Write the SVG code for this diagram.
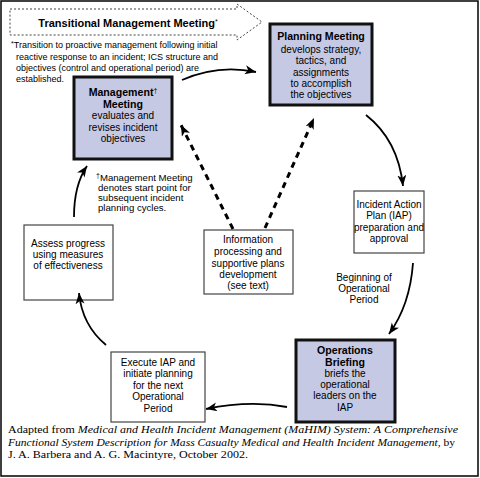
<svg xmlns="http://www.w3.org/2000/svg" width="480" height="478" viewBox="0 0 480 478">
<defs>
<marker id="ah" markerUnits="userSpaceOnUse" markerWidth="12" markerHeight="10" refX="11" refY="4.5" orient="auto">
<path d="M0,0 L11,4.5 L0,9 L3,4.5 Z" fill="#000"/>
</marker>
</defs>
<style>
.t{font-family:"Liberation Sans",Arial,sans-serif;fill:#000;text-anchor:middle;font-size:10px}
.b{font-weight:bold;font-size:10.6px}
.n{font-family:"Liberation Sans",Arial,sans-serif;fill:#000;font-size:9px}
.cap{font-family:"Liberation Serif","Times New Roman",serif;fill:#000;font-size:11.3px}
.plain{fill:#fff;stroke:#444;stroke-width:1.2}
.key{fill:#c6c9e4;stroke:#111;stroke-width:3}
.arr{fill:none;stroke:#000;stroke-width:1.8;marker-end:url(#ah)}
.dash{fill:none;stroke:#000;stroke-width:3;stroke-dasharray:6 5;marker-end:url(#ah)}
</style>
<rect x="0" y="0" width="480" height="478" fill="#fff"/>
<rect x="1" y="1" width="477" height="475" fill="none" stroke="#000" stroke-width="1.5"/>

<g id="transitional">
<path d="M10,9 H237 V4 L262,22 L237,40 V35 H10 Z" fill="none" stroke="#444" stroke-width="1" stroke-dasharray="2 2"/>
<text class="t b" x="128" y="27" style="font-size:11px">Transitional Management Meeting<tspan font-size="7" dy="-3" font-weight="normal">*</tspan></text>
</g>

<g id="note-transition">
<text class="n" x="11" y="48"><tspan font-size="7" dy="-2">*</tspan><tspan dy="2">Transition to proactive management following initial</tspan></text>
<text class="n" x="16" y="60">reactive response to an incident; ICS structure and</text>
<text class="n" x="16" y="71">objectives (control and operational period) are</text>
<text class="n" x="16" y="82">established.</text>
</g>

<g id="management">
<rect class="key" x="74" y="77" width="98" height="82"/>
<text class="t b" x="123" y="96">Management<tspan font-size="7" dy="-3" font-weight="normal">†</tspan></text>
<text class="t b" x="123" y="108">Meeting</text>
<text class="t" x="123" y="119">evaluates and</text>
<text class="t" x="123" y="131">revises incident</text>
<text class="t" x="123" y="142">objectives</text>
</g>

<g id="planning">
<rect class="key" x="270" y="24" width="102" height="81"/>
<text class="t b" x="321" y="40">Planning Meeting</text>
<text class="t" x="321" y="53">develops strategy,</text>
<text class="t" x="321" y="64">tactics, and</text>
<text class="t" x="321" y="76">assignments</text>
<text class="t" x="321" y="87">to accomplish</text>
<text class="t" x="321" y="98">the objectives</text>
</g>

<g id="iap">
<rect class="plain" x="354" y="191" width="70" height="62"/>
<text class="t" x="389" y="208">Incident Action</text>
<text class="t" x="389" y="219">Plan (IAP)</text>
<text class="t" x="389" y="231">preparation and</text>
<text class="t" x="389" y="242">approval</text>
</g>

<g id="briefing">
<rect class="key" x="296" y="340" width="99" height="82"/>
<text class="t b" x="345" y="354">Operations</text>
<text class="t b" x="345" y="365.5">Briefing</text>
<text class="t" x="345" y="376.5">briefs the</text>
<text class="t" x="345" y="388">operational</text>
<text class="t" x="345" y="399">leaders on the</text>
<text class="t" x="345" y="410.5">IAP</text>
</g>

<g id="execute">
<rect class="plain" x="111" y="352" width="94" height="70"/>
<text class="t" x="158" y="366">Execute IAP and</text>
<text class="t" x="158" y="377">initiate planning</text>
<text class="t" x="158" y="389">for the next</text>
<text class="t" x="158" y="400">Operational</text>
<text class="t" x="158" y="412">Period</text>
</g>

<g id="assess">
<rect class="plain" x="24" y="225" width="89" height="75"/>
<text class="t" x="68" y="247">Assess progress</text>
<text class="t" x="68" y="258">using measures</text>
<text class="t" x="68" y="269">of effectiveness</text>
</g>

<g id="information">
<rect class="plain" x="204" y="230" width="89" height="64"/>
<text class="t" x="248" y="243">Information</text>
<text class="t" x="248" y="255">processing and</text>
<text class="t" x="248" y="267">supportive plans</text>
<text class="t" x="248" y="278">development</text>
<text class="t" x="248" y="289">(see text)</text>
</g>

<g id="note-management">
<text class="n" x="96" y="181" style="font-size:9.6px"><tspan font-size="7" dy="-3">†</tspan><tspan dy="3">Management Meeting</tspan></text>
<text class="n" x="98" y="191" style="font-size:9.6px">denotes start point for</text>
<text class="n" x="98" y="201" style="font-size:9.6px">subsequent incident</text>
<text class="n" x="98" y="211" style="font-size:9.6px">planning cycles.</text>
</g>

<g id="label-beginning">
<text class="t" x="364" y="281">Beginning of</text>
<text class="t" x="364" y="292">Operational</text>
<text class="t" x="364" y="303">Period</text>
</g>

<g id="connectors">
<path class="arr" d="M182,80 Q218,64 256,72"/>
<path class="arr" d="M366,115 Q398,140 403,186"/>
<path class="arr" d="M413,263 Q410,305 389,334"/>
<path class="arr" d="M287,407 Q250,400 206,409"/>
<path class="arr" d="M106,345 Q82,325 79,293"/>
<path class="arr" d="M74,217 Q74,185 87,166"/>
<path class="dash" d="M233,229 L181,125"/>
<path class="dash" d="M265,228 L314,118"/>
</g>

<g id="caption">
<text class="cap" x="8" y="433" textLength="450" lengthAdjust="spacingAndGlyphs">Adapted from <tspan font-style="italic">Medical and Health Incident Management (MaHIM) System:  A Comprehensive</tspan></text>
<text class="cap" x="8" y="446" textLength="447" lengthAdjust="spacingAndGlyphs"><tspan font-style="italic">Functional System Description for Mass Casualty Medical and Health Incident Management,</tspan> by</text>
<text class="cap" x="8" y="458" textLength="240" lengthAdjust="spacingAndGlyphs">J. A. Barbera and A. G. Macintyre, October 2002.</text>
</g>
</svg>
